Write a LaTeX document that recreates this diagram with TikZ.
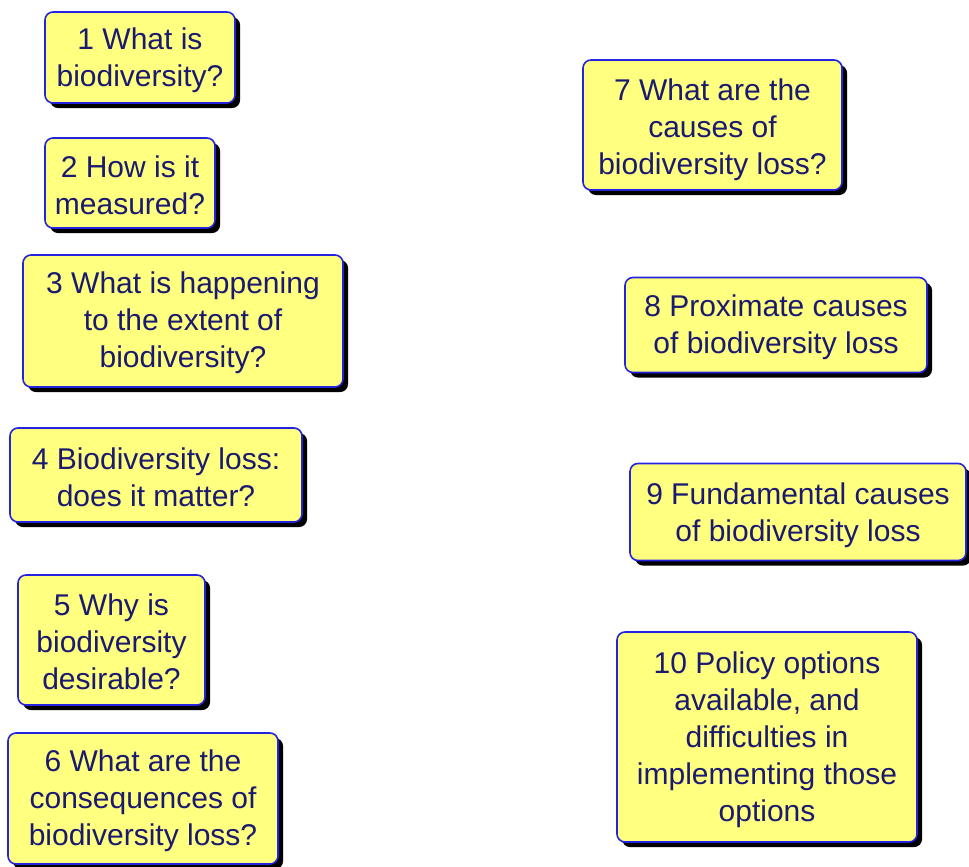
\documentclass[tikz,border=0pt]{standalone}
\usepackage{fontspec}
\setmainfont{Liberation Sans}
\usetikzlibrary{shadows}
\definecolor{boxfill}{HTML}{FFFF80}
\definecolor{boxline}{HTML}{2424E0}
\definecolor{boxtext}{HTML}{1A1A70}
\tikzset{
  qbox/.style={draw=boxline, line width=1.2pt, fill=boxfill, rounded corners=6pt,
    inner sep=0pt,
    drop shadow={shadow xshift=3.8pt, shadow yshift=-3.8pt, fill=black, opacity=1}},
  qtext/.style={align=center, inner sep=0pt, text=boxtext,
    font=\fontsize{22.5}{27.75}\selectfont},
}
\begin{document}
\begin{tikzpicture}[x=0.75pt, y=-0.75pt]
\useasboundingbox (0,0) rectangle (969,866);
\node[qbox, minimum width=190*0.75pt, minimum height=91*0.75pt] (b1) at (140,57.5) {};
\node[qbox, minimum width=170*0.75pt, minimum height=90*0.75pt] (b2) at (130,183) {};
\node[qbox, minimum width=320*0.75pt, minimum height=132*0.75pt] (b3) at (183,321) {};
\node[qbox, minimum width=292*0.75pt, minimum height=94*0.75pt] (b4) at (156,475) {};
\node[qbox, minimum width=187*0.75pt, minimum height=130*0.75pt] (b5) at (111.5,640) {};
\node[qbox, minimum width=270*0.75pt, minimum height=131*0.75pt] (b6) at (143,798.5) {};
\node[qbox, minimum width=259*0.75pt, minimum height=130*0.75pt] (b7) at (712.5,125) {};
\node[qbox, minimum width=302*0.75pt, minimum height=95*0.75pt] (b8) at (776,325) {};
\node[qbox, minimum width=336*0.75pt, minimum height=97*0.75pt] (b9) at (798,512) {};
\node[qbox, minimum width=300*0.75pt, minimum height=210*0.75pt] (b10) at (767,737) {};
\node[qtext] (t1) at ([yshift=-2pt]b1.center) {1 What is\\biodiversity?};
\node[qtext] (t2) at ([yshift=-2pt]b2.center) {2 How is it\\measured?};
\node[qtext] (t3) at ([yshift=-1.5pt]b3.center) {3 What is happening\\to the extent of\\biodiversity?};
\node[qtext] (t4) at ([yshift=-1.5pt]b4.center) {4 Biodiversity loss:\\does it matter?};
\node[qtext] (t5) at ([yshift=-1.5pt]b5.center) {5 Why is\\biodiversity\\desirable?};
\node[qtext] (t6) at ([yshift=-2pt]b6.center) {6 What are the\\consequences of\\biodiversity loss?};
\node[qtext] (t7) at ([yshift=-3.5pt]b7.center) {7 What are the\\causes of\\biodiversity loss?};
\node[qtext] (t8) at ([yshift=-2pt]b8.center) {8 Proximate causes\\of biodiversity loss};
\node[qtext] (t9) at ([yshift=-2.5pt]b9.center) {9 Fundamental causes\\of biodiversity loss};
\node[qtext] (t10) at ([yshift=-2pt]b10.center) {10 Policy options\\available, and\\difficulties in\\implementing those\\options};
\end{tikzpicture}
\end{document}
